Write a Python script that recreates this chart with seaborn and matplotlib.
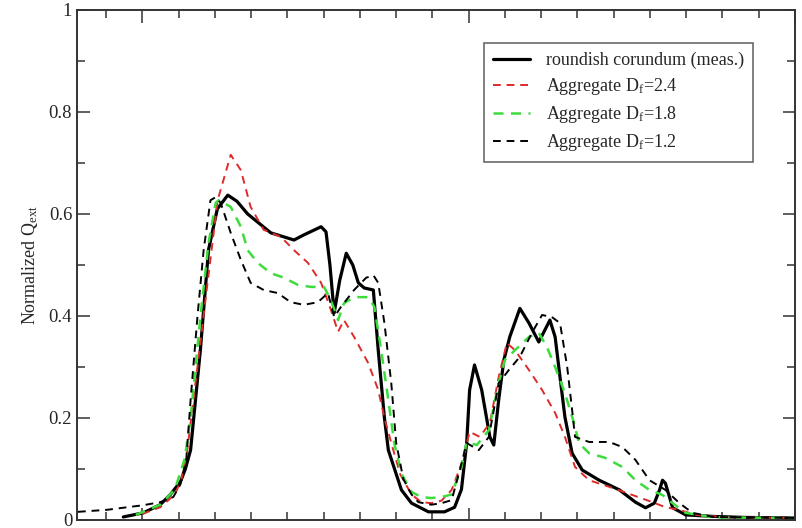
import numpy as np
import pandas as pd
import matplotlib
matplotlib.use("Agg")
import matplotlib.pyplot as plt
import seaborn as sns
from matplotlib.ticker import FixedLocator

# ---------------- data ----------------
meas_x = [9.42, 10.03, 10.55, 10.86, 11.17, 11.32, 11.48, 11.78, 12.03, 12.3, 12.62, 12.9,
          13.23, 13.94, 14.65, 14.95, 15.48, 15.63, 15.75, 15.88, 16.05, 16.25, 16.45, 16.62,
          16.8, 17.08, 17.23, 17.42, 17.54, 17.94, 18.25, 18.77, 19.26, 19.57, 19.78, 19.94,
          20.03, 20.18, 20.4, 20.65, 20.77, 20.92, 21.08, 21.26, 21.57, 21.85, 22.15, 22.34,
          22.49, 22.65, 22.8, 22.95, 23.17, 23.48, 24.0, 24.62, 25.11, 25.42, 25.69, 25.85,
          25.94, 26.03, 26.25, 26.65, 27.5, 28.5, 30.0]
meas_y = [0.006, 0.014, 0.03, 0.05, 0.075, 0.10, 0.137, 0.333, 0.53, 0.61, 0.637, 0.625,
          0.60, 0.563, 0.549, 0.559, 0.575, 0.565, 0.50, 0.406, 0.47, 0.523, 0.50, 0.465,
          0.455, 0.451, 0.333, 0.20, 0.137, 0.059, 0.033, 0.016, 0.016, 0.025, 0.06, 0.151,
          0.255, 0.304, 0.255, 0.163, 0.147, 0.235, 0.314, 0.359, 0.415, 0.386, 0.349, 0.373,
          0.392, 0.359, 0.28, 0.202, 0.131, 0.098, 0.078, 0.059, 0.035, 0.024, 0.033, 0.059,
          0.078, 0.072, 0.024, 0.01, 0.007, 0.005, 0.004]

df24_x = [10.0, 10.55, 11.0, 11.2, 11.38, 11.69, 12.0, 12.31, 12.71, 13.02, 13.32, 13.72,
          14.25, 14.65, 15.08, 15.48, 15.78, 16.0, 16.18, 16.49, 16.92, 17.23, 17.42, 17.63,
          17.9, 18.25, 18.55, 18.86, 19.17, 19.48, 19.78, 20.03, 20.34, 20.65, 20.92, 21.17,
          21.42, 21.85, 22.25, 22.65, 22.95, 23.26, 23.69, 24.31, 25.02, 25.63, 26.03, 26.46,
          26.95, 28.0, 30.0]
df24_y = [0.012, 0.025, 0.05, 0.08, 0.137, 0.30, 0.465, 0.627, 0.716, 0.686, 0.614, 0.569,
          0.555, 0.529, 0.504, 0.465, 0.412, 0.369, 0.392, 0.359, 0.308, 0.255, 0.20, 0.151,
          0.09, 0.05, 0.035, 0.033, 0.038, 0.059, 0.11, 0.173, 0.163, 0.19, 0.28, 0.347,
          0.333, 0.294, 0.255, 0.21, 0.163, 0.104, 0.078, 0.065, 0.049, 0.035, 0.025, 0.02,
          0.01, 0.005, 0.004]

df18_x = [9.8, 10.55, 11.0, 11.3, 11.48, 11.78, 12.03, 12.25, 12.34, 12.71, 13.02, 13.23,
          13.54, 13.94, 14.34, 14.77, 15.17, 15.57, 15.78, 16.0, 16.18, 16.49, 16.92, 17.11,
          17.32, 17.54, 17.72, 17.95, 18.25, 18.55, 18.86, 19.17, 19.48, 19.78, 19.94, 20.25,
          20.62, 20.92, 21.11, 21.42, 21.85, 22.15, 22.4, 22.65, 22.95, 23.23, 23.38, 23.69,
          24.18, 24.71, 25.11, 25.54, 25.94, 26.25, 26.65, 27.5, 30.0]
df18_y = [0.01, 0.03, 0.06, 0.12, 0.20, 0.398, 0.543, 0.622, 0.627, 0.614, 0.575, 0.529,
          0.504, 0.484, 0.475, 0.461, 0.457, 0.457, 0.431, 0.392, 0.425, 0.437, 0.437, 0.418,
          0.333, 0.235, 0.151, 0.09, 0.055, 0.045, 0.043, 0.045, 0.05, 0.104, 0.153, 0.147,
          0.176, 0.268, 0.314, 0.333, 0.359, 0.367, 0.339, 0.30, 0.249, 0.19, 0.151, 0.131,
          0.122, 0.104, 0.078, 0.059, 0.049, 0.033, 0.014, 0.005, 0.004]

df12_x = [8.03, 8.92, 10.03, 10.55, 10.95, 11.17, 11.35, 11.48, 11.69, 11.88, 12.09, 12.25,
          12.4, 12.71, 13.02, 13.32, 13.72, 14.15, 14.55, 14.95, 15.38, 15.69, 15.88, 16.09,
          16.49, 16.86, 17.08, 17.23, 17.42, 17.63, 17.78, 18.0, 18.25, 18.46, 18.86, 19.17,
          19.48, 19.78, 19.94, 20.31, 20.62, 20.92, 21.23, 21.57, 21.94, 22.25, 22.55, 22.8,
          23.02, 23.17, 23.26, 23.69, 24.31, 24.71, 25.11, 25.54, 26.03, 26.46, 26.86, 27.5,
          30.0]
df12_y = [0.016, 0.02, 0.029, 0.035, 0.045, 0.07, 0.12, 0.235, 0.398, 0.529, 0.627, 0.633,
          0.622, 0.563, 0.51, 0.465, 0.451, 0.445, 0.427, 0.422, 0.427, 0.445, 0.398, 0.418,
          0.451, 0.475, 0.48, 0.465, 0.386, 0.268, 0.151, 0.08, 0.05, 0.035, 0.03, 0.033,
          0.039, 0.11, 0.151, 0.137, 0.163, 0.268, 0.294, 0.32, 0.367, 0.402, 0.398, 0.386,
          0.30, 0.216, 0.163, 0.153, 0.153, 0.143, 0.118, 0.078, 0.059, 0.033, 0.014, 0.006,
          0.004]

labels = ["roundish corundum (meas.)",
          r"Aggregate D$_\mathregular{f}$=2.4",
          r"Aggregate D$_\mathregular{f}$=1.8",
          r"Aggregate D$_\mathregular{f}$=1.2"]

y_ticks = [0, 0.2, 0.4, 0.6, 0.8, 1.0]
y_ticklabels = ["0", "0.2", "0.4", "0.6", "0.8", "1"]
x_ticks = [10, 20, 30]

# ---------------- style ----------------
sns.set_style("ticks")
plt.rcParams['font.family'] = ['Liberation Serif', 'DejaVu Serif']
plt.rcParams['mathtext.default'] = 'regular'

fig = plt.figure(figsize=(8.02, 5.28), dpi=100)
ax = fig.add_axes([77/802, 1 - 520/528, (795-77)/802, (520-10)/528])

dash = (4, 3)
sns.lineplot(x=meas_x, y=meas_y, ax=ax, color="black", lw=2.3, sort=False, label=labels[0])
sns.lineplot(x=df24_x, y=df24_y, ax=ax, color="#dd2a2a", lw=1.4, sort=False, label=labels[1])
sns.lineplot(x=df18_x, y=df18_y, ax=ax, color="#3ddc3d", lw=1.8, sort=False, label=labels[2])
sns.lineplot(x=df12_x, y=df12_y, ax=ax, color="black", lw=1.4, sort=False, label=labels[3])
for ln in ax.lines[1:]:
    ln.set_linestyle((0, dash))

ax.set_xlim(8, 30)
ax.set_ylim(0, 1)
ax.xaxis.set_major_locator(FixedLocator(x_ticks))
ax.xaxis.set_minor_locator(FixedLocator([10 + i * 10 / 9 for i in range(-1, 19)]))
ax.yaxis.set_major_locator(FixedLocator(y_ticks))
ax.yaxis.set_minor_locator(FixedLocator([0.1, 0.3, 0.5, 0.7, 0.9]))
ax.set_yticklabels(y_ticklabels)
ax.tick_params(which="both", direction="in", top=True, right=True, labelsize=13.5, color="#333333")
ax.tick_params(which="major", length=9, width=1.1, pad=3.5)
ax.tick_params(axis="x", which="major", pad=6)
ax.tick_params(which="minor", length=5.5, width=1.1)
for s in ax.spines.values():
    s.set_linewidth(1.4)
    s.set_color("#333333")

ax.set_xlabel("")
ax.set_ylabel(r"Normalized Q$_\mathregular{ext}$", fontsize=13, labelpad=6)

leg = ax.legend(loc="upper right", bbox_to_anchor=(0.9415, 0.935), borderaxespad=0,
                fontsize=13, frameon=True, fancybox=False, handlelength=2.0,
                labelspacing=0.38, borderpad=0.5, handletextpad=0.9)
leg.get_frame().set_edgecolor("#444444")
leg.get_frame().set_linewidth(1.2)

fig.savefig("out.png", dpi=100)
